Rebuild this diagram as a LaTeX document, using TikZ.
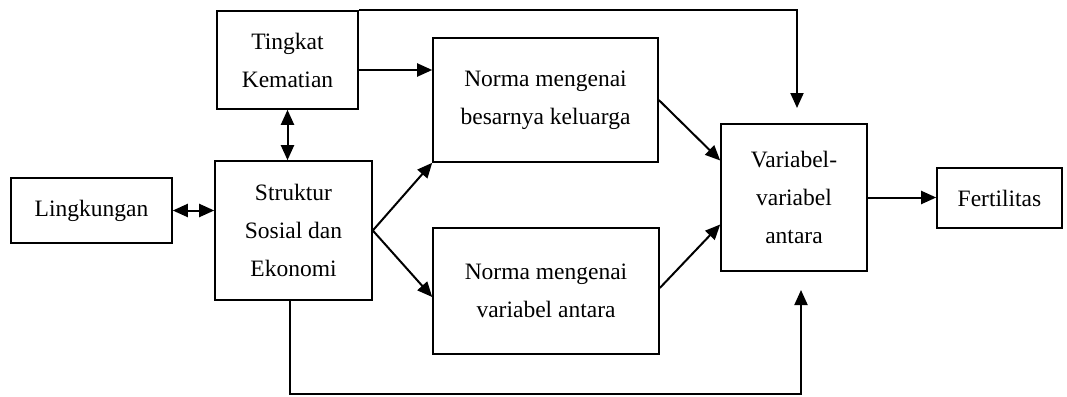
\documentclass[tikz,border=0pt]{standalone}
\usepackage{fontspec}
\setmainfont{Liberation Serif}
\usetikzlibrary{arrows.meta,positioning,calc}

\begin{document}
\begin{tikzpicture}[
  x=1pt, y=-1pt,
  font=\fontsize{23.5}{38}\selectfont,
  box/.style={draw, line width=1.6pt, align=center, inner sep=0pt},
  flow/.style={-{Triangle[length=15pt,width=13pt]}, line width=2pt},
  twoway/.style={{Triangle[length=15pt,width=13pt]}-{Triangle[length=15pt,width=13pt]}, line width=2pt},
]
\useasboundingbox (0,0) rectangle (1067,396);

% ---- boxes ------------------------------------------------------------------
\node[box, minimum width=161pt, minimum height=65pt]  (ling)     at (91.5,210.5) {Lingkungan};
\node[box, minimum width=141pt, minimum height=98pt]  (tingkat)  at (287.5,60)   {Tingkat\\Kematian};
\node[box, minimum width=157pt, minimum height=139pt] (struktur) at (293.5,230.5) {Struktur\\Sosial dan\\Ekonomi};
\node[box, minimum width=225pt, minimum height=124pt] (besar)    at (545.5,100)  {Norma mengenai\\besarnya keluarga};
\node[box, minimum width=226pt, minimum height=126pt] (normvar)  at (546,291)    {Norma mengenai\\variabel antara};
\node[box, minimum width=146pt, minimum height=147pt] (antara)   at (794,197.5)  {Variabel-\\variabel\\antara};
\node[box, minimum width=125pt, minimum height=60pt]  (fert)     at (999.5,198)  {Fertilitas};

% free ends and start points
\coordinate (topin) at (797,108);
\coordinate (botin) at (801,290);
\coordinate (kout)  at ($(tingkat.east)+(0,10)$);
\coordinate (sout)  at ($(struktur.south)+(-3.5,0)$);

% ---- connectors -------------------------------------------------------------
\draw[twoway] (ling.east) -- (ling.east -| struktur.west);
\draw[twoway] (tingkat.south) -- (tingkat.south |- struktur.north);
\draw[flow] (kout) -- (kout -| besar.west);
\draw[flow] (tingkat.north east) -| (topin);

\draw[flow] (struktur.east) -- (besar.south west);
\draw[flow] (struktur.east) -- ($(normvar.west)+(0,6)$);

\draw[flow] (besar.east) -- ($(antara.west)+(0,-37)$);
\draw[flow] ($(normvar.east)+(0,-3)$) -- ($(antara.west)+(0,27)$);
\draw[flow] (antara.east) -- (antara.east -| fert.west);

\draw[flow] (sout) -- ++(0,93) -| (botin);

\end{tikzpicture}
\end{document}
